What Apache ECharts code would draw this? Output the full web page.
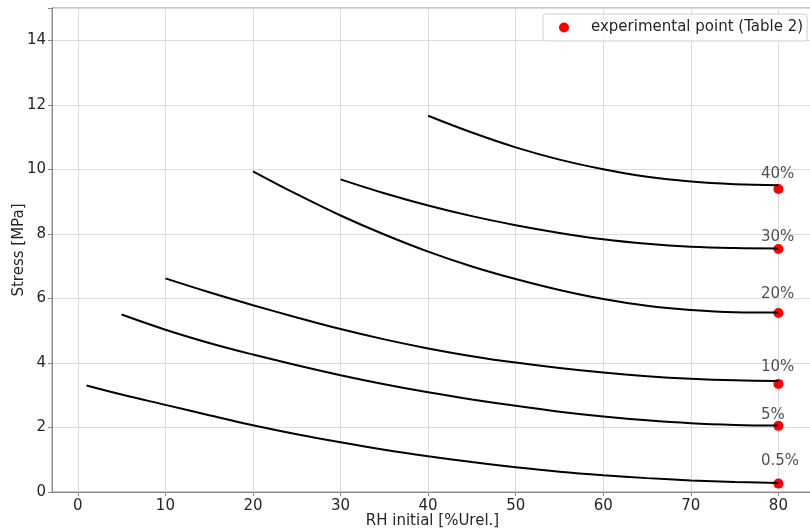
<!DOCTYPE html>
<html>
<head>
<meta charset="utf-8">
<script src="https://cdn.jsdelivr.net/npm/echarts@6/dist/echarts.min.js"></script>
<style>html,body{margin:0;padding:0;background:#fff}#chart{width:810px;height:532px}</style>
</head>
<body>
<div id="chart"></div>
<script>
// ---- data ----
const curveNames = ['0.5%', '5%', '10%', '20%', '30%', '40%'];
const curve05 = [[1,3.30],[5,3.02],[10,2.70],[15,2.38],[20,2.07],[25,1.79],[30,1.54],[35,1.31],[40,1.11],[45,0.93],[50,0.77],[55,0.63],[60,0.52],[65,0.43],[70,0.36],[75,0.31],[80,0.28]];
const curve5  = [[5,5.50],[10,5.03],[15,4.62],[20,4.26],[25,3.93],[30,3.62],[35,3.34],[40,3.09],[45,2.87],[50,2.67],[55,2.49],[60,2.34],[65,2.22],[70,2.13],[75,2.08],[80,2.06]];
const curve10 = [[10,6.62],[15,6.19],[20,5.79],[25,5.41],[30,5.05],[35,4.73],[40,4.45],[45,4.21],[50,4.01],[55,3.84],[60,3.70],[65,3.59],[70,3.51],[75,3.46],[80,3.44]];
const curve20 = [[20,9.94],[25,9.23],[30,8.57],[35,7.98],[40,7.45],[45,6.99],[50,6.60],[55,6.26],[60,5.98],[65,5.77],[70,5.64],[75,5.57],[80,5.56]];
const curve30 = [[30,9.69],[35,9.26],[40,8.88],[45,8.55],[50,8.27],[55,8.03],[60,7.83],[65,7.69],[70,7.60],[75,7.56],[80,7.55]];
const curve40 = [[40,11.66],[45,11.14],[50,10.68],[55,10.30],[60,10.00],[65,9.77],[70,9.62],[75,9.54],[80,9.51]];
const curves = [curve05, curve5, curve10, curve20, curve30, curve40];
const expX = [80, 80, 80, 80, 80, 80];
const expY = [0.26, 2.05, 3.35, 5.55, 7.53, 9.39];
const labelX = [78.0, 78.0, 78.0, 78.0, 78.0, 78.0];
const labelY = [0.95, 2.38, 3.86, 6.13, 7.91, 9.85];
const legendName = 'experimental point (Table 2)';

const FONT = 'DejaVu Sans';
const FS = 15;
const chart = echarts.init(document.getElementById('chart'), null, {renderer: 'canvas'});

const series = [];
series.push({
  name: legendName,
  type: 'scatter',
  data: expX.map((x, i) => [x, expY[i]]),
  symbol: 'circle',
  symbolSize: 10,
  itemStyle: {color: '#ff0000', opacity: 1},
  z: 2,
  animation: false
});
curves.forEach((c, i) => {
  series.push({
    name: curveNames[i],
    type: 'line',
    data: c,
    smooth: 0.4,
    showSymbol: false,
    symbol: 'none',
    lineStyle: {color: '#000', width: 2},
    z: 3,
    animation: false
  });
});
series.push({
  name: 'labels',
  type: 'scatter',
  symbolSize: 0,
  data: labelX.map((x, i) => ({value: [x, labelY[i]], name: curveNames[i]})),
  label: {
    show: true,
    position: [0, 0],
    align: 'left',
    verticalAlign: 'middle',
    formatter: p => p.name,
    fontFamily: FONT,
    fontSize: FS,
    color: '#262626'
  },
  z: 4,
  silent: true,
  animation: false
});

chart.setOption({
  animation: false,
  backgroundColor: '#fff',
  textStyle: {fontFamily: FONT},
  grid: {left: 52, top: 8, right: -3, bottom: 40, show: true, borderColor: '#8c8c8c', borderWidth: 1, containLabel: false, outerBoundsMode: 'none'},
  legend: {
    data: [legendName],
    left: 543,
    top: 14,
    icon: 'circle',
    itemWidth: 10,
    itemHeight: 10,
    padding: [6, 4, 6, 16],
    borderColor: '#d0d0d0',
    borderWidth: 1,
    borderRadius: 3,
    backgroundColor: 'rgba(255,255,255,0.85)',
    textStyle: {fontFamily: FONT, fontSize: FS, color: '#262626', lineHeight: 15, padding: [0, 0, 0, 17]}
  },
  xAxis: {
    type: 'value',
    min: -2.95,
    max: 83.95,
    splitNumber: 9,
    name: 'RH initial [%Urel.]',
    nameLocation: 'middle',
    nameGap: 22,
    nameMoveOverlap: false,
    nameTextStyle: {fontFamily: FONT, fontSize: FS, color: '#262626'},
    axisLine: {show: true, onZero: false, lineStyle: {color: '#8c8c8c', width: 1}},
    axisTick: {show: true, length: 4, lineStyle: {color: '#8c8c8c'}},
    axisLabel: {
      fontFamily: FONT, fontSize: FS, color: '#262626', margin: 7,
      showMinLabel: false, showMaxLabel: false,
      formatter: v => (Math.abs(v - Math.round(v / 10) * 10) < 1e-6 ? String(Math.round(v)) : '')
    },
    splitLine: {show: true, lineStyle: {color: '#dcdcdc', width: 1}}
  },
  yAxis: {
    type: 'value',
    min: 0,
    max: 15,
    interval: 2,
    name: 'Stress [MPa]',
    nameLocation: 'middle',
    nameGap: 25,
    nameMoveOverlap: false,
    nameTextStyle: {fontFamily: FONT, fontSize: FS, color: '#262626'},
    axisLine: {show: true, onZero: false, lineStyle: {color: '#8c8c8c', width: 1}},
    axisTick: {show: true, length: 4, lineStyle: {color: '#8c8c8c'}},
    axisLabel: {
      fontFamily: FONT, fontSize: FS, color: '#262626', margin: 6,
      formatter: v => (v % 2 === 0 ? String(v) : '')
    },
    splitLine: {show: true, lineStyle: {color: '#dcdcdc', width: 1}}
  },
  series: series
});
</script>
</body>
</html>
